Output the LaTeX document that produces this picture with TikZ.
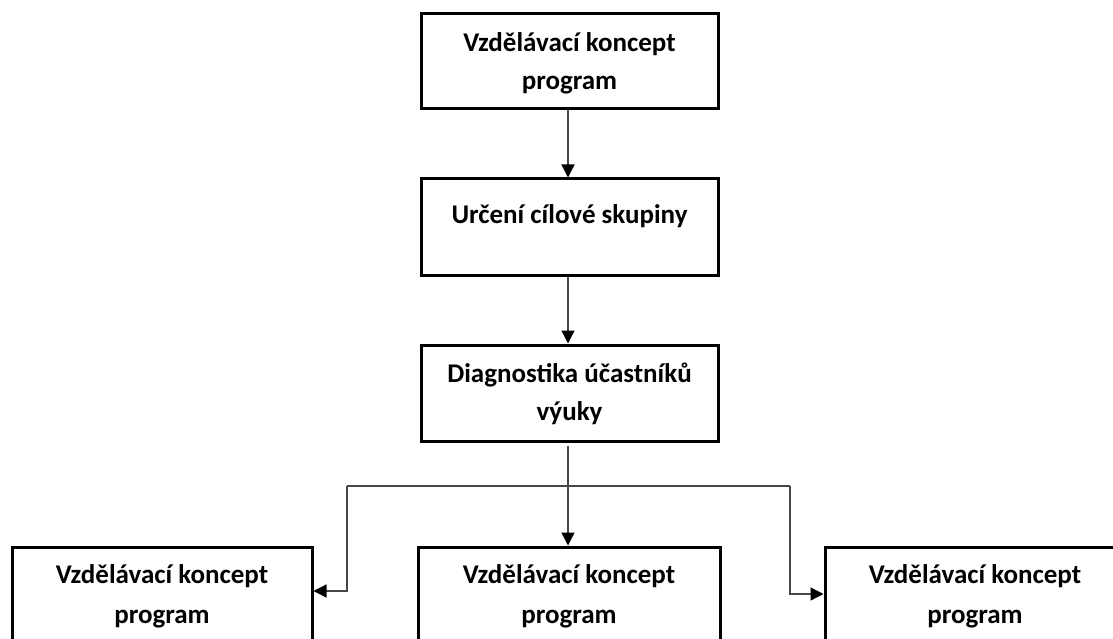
\documentclass[tikz,border=0pt]{standalone}
\usepackage{fontspec}
\setmainfont{Carlito}
\usetikzlibrary{arrows.meta}
\begin{document}
\begin{tikzpicture}[x=1pt,y=-1pt,
  box/.style={draw=black, line width=3pt, minimum width=297pt, inner sep=0pt},
  lbl/.style={font=\fontsize{27}{32}\selectfont\bfseries, anchor=base, inner sep=0pt},
  conn/.style={draw=black!72, line width=1.3pt},
  arr/.style={conn, -{Triangle[length=13pt,width=13pt,color=black]}}]
\useasboundingbox (0,0) rectangle (1113,639);
\clip (0,0) rectangle (1113,639);
\fill[white] (0,0) rectangle (1113,639);

% top chain
\node[box, minimum height=95pt] (a) at (569.5,61.5) {};
\node[lbl] (a1) at (569.5,52) {Vzdělávací koncept};
\node[lbl] (a2) at (569.5,90) {program};

\node[box, minimum height=96pt] (b) at (569.5,227) {};
\node[lbl] (b1) at (569.5,223) {Určení cílové skupiny};

\node[box, minimum height=96pt] (c) at (569.5,393) {};
\node[lbl] (c1) at (569.5,382) {Diagnostika účastníků};
\node[lbl] (c2) at (569.5,420) {výuky};

% bottom row (cut off at bottom)
\node[box, minimum width=300pt, minimum height=120pt] (d1) at (162,607) {};
\node[lbl] (d1a) at (162,583) {Vzdělávací koncept};
\node[lbl] (d1b) at (162,623) {program};

\node[box, minimum width=302pt, minimum height=120pt] (d2) at (569,607) {};
\node[lbl] (d2a) at (569,583) {Vzdělávací koncept};
\node[lbl] (d2b) at (569,623) {program};

\node[box, minimum width=300pt, minimum height=120pt] (d3) at (975,607) {};
\node[lbl] (d3a) at (975,583) {Vzdělávací koncept};
\node[lbl] (d3b) at (975,623) {program};

% connectors
\draw[arr] (a.south -| 568,0) -- (b.north -| 568,0);
\draw[arr] (b.south -| 568,0) -- (c.north -| 568,0);
\draw[arr] ([yshift=-3pt]c.south -| 568,0) -- (d2.north -| 568,0);

\coordinate (jl) at (347,486);
\coordinate (jr) at (790,486);
\draw[conn] (jl) -- (jr);
\draw[arr] (jl) |- ([yshift=16pt]d1.east);
\draw[arr] (jr) |- ([yshift=13pt]d3.west);
\end{tikzpicture}
\end{document}
